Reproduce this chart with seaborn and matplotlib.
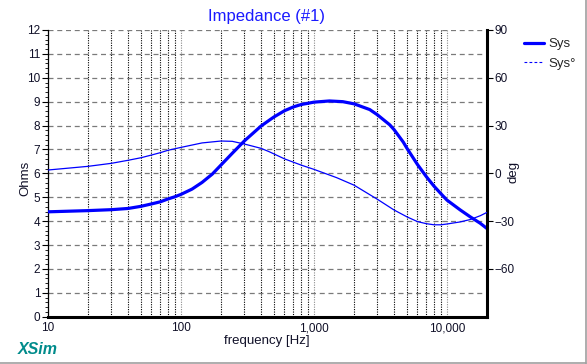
import numpy as np
import pandas as pd
import seaborn as sns
import matplotlib
matplotlib.use("Agg")
import matplotlib.pyplot as plt
from matplotlib.lines import Line2D
from matplotlib.ticker import FixedLocator, MultipleLocator, NullFormatter

# ---- data ----
freq_mag = [10, 20, 30, 40, 50, 60, 70, 80, 90, 100, 121, 144, 172, 200, 243, 300, 400,
            460, 500, 600, 700, 800, 1000, 1306, 1647, 2000, 2625, 3000, 3715, 4000, 4690,
            5000, 6000, 7000, 8000, 9000, 10000, 12570, 14960, 17800, 20000]
ohms = [4.39, 4.44, 4.48, 4.53, 4.62, 4.72, 4.81, 4.93, 5.02, 5.12, 5.34, 5.62, 5.97,
        6.35, 6.84, 7.36, 7.98, 8.22, 8.36, 8.62, 8.78, 8.88, 8.98, 9.03, 9.00, 8.91,
        8.67, 8.45, 8.03, 7.83, 7.31, 7.05, 6.37, 5.86, 5.46, 5.15, 4.88, 4.47, 4.18,
        3.91, 3.69]

freq_ph = [10, 20, 30, 40, 50, 60, 70, 80, 100, 144, 200, 243, 300, 400, 460, 500, 600,
           800, 1000, 1480, 2000, 3000, 4000, 5000, 6000, 7000, 8000, 9000, 10000, 12570,
           14960, 17800, 20000]
deg = [2.1, 4.4, 6.3, 8.2, 9.8, 11.5, 13.0, 14.5, 16.3, 19.1, 20.3, 20.1, 18.4, 15.7,
       13.6, 12.2, 9.1, 5.2, 2.5, -2.7, -7.4, -16.3, -23.0, -27.3, -30.3, -31.6, -32.3,
       -32.3, -31.8, -30.5, -29.0, -26.6, -24.5]

x_ticks = [10, 100, 1000, 10000]
x_tick_labels = ["10", "100", "1,000", "10,000"]
left_ticks = list(range(0, 13))
right_ticks = [-60, -30, 0, 30, 60, 90]

title = "Impedance (#1)"
series_names = ["Sys", "Sys°"]

df_mag = pd.DataFrame({"freq": freq_mag, "val": ohms})
df_ph = pd.DataFrame({"freq": freq_ph, "val": deg})

sns.set_theme(style="white")
plt.rcParams["font.family"] = ["Liberation Sans", "DejaVu Sans"]

W, H = 587, 364
fig = plt.figure(figsize=(W / 100, H / 100), dpi=100)
fig.patch.set_facecolor("white")

L, R, T, B = 48, 487, 30, 316.7
ax = fig.add_axes([L / W, 1 - B / H, (R - L) / W, (B - T) / H])
ax.set_facecolor("white")
ax.set_xscale("log")
ax.set_xlim(10, 20000)
ax.set_ylim(0, 12)

blue = "#0000ff"
label_col = "#101028"

sns.lineplot(data=df_mag, x="freq", y="val", ax=ax, color=blue, linewidth=2.3,
             legend=False, zorder=5)

ax2 = ax.twinx()
ax2.set_ylim(-90, 90)
sns.lineplot(data=df_ph, x="freq", y="val", ax=ax2, color=blue, linewidth=0.9,
             legend=False, zorder=5)
ax.set_xlim(10, 20000)

# grids
ax.set_xticks(x_ticks)
ax.set_xticklabels(x_tick_labels)
minor = [m * 10 ** e for e in range(1, 5) for m in range(2, 10) if m * 10 ** e < 20000]
ax.xaxis.set_minor_locator(FixedLocator(minor))
ax.xaxis.set_minor_formatter(NullFormatter())
ax.grid(False)
ax2.grid(False)
ax.xaxis.grid(True, which="minor", color="black", linestyle=(0, (1, 1.2)), linewidth=0.8)
ax.xaxis.grid(True, which="major", color="#8a8a8a", linestyle=(0, (1, 1.2)), linewidth=0.8)
ax.set_yticks(left_ticks)
ax.yaxis.set_minor_locator(MultipleLocator(0.2))
ax.yaxis.grid(True, which="major", color="#7a7a7a", linestyle=(0, (4, 3)), linewidth=0.9)

ax2.set_yticks(right_ticks)

# spines
ax.spines["top"].set_visible(False)
ax2.spines["top"].set_visible(False)
ax.spines["left"].set_color("black")
ax.spines["left"].set_linewidth(0.9)
ax.spines["bottom"].set_color("black")
ax.spines["bottom"].set_linewidth(2.2)
ax.spines["right"].set_visible(False)
ax2.spines["left"].set_visible(False)
ax2.spines["bottom"].set_visible(False)
ax2.spines["right"].set_color("black")
ax2.spines["right"].set_linewidth(2.2)

# ticks
ax.tick_params(axis="x", which="both", length=0, pad=4, labelsize=8.5, labelcolor=label_col)
ax.tick_params(axis="y", which="major", left=True, length=4, width=0.8, color="black",
               pad=1.5, labelsize=8.5, labelcolor=label_col)
ax.tick_params(axis="y", which="minor", left=True, length=2, width=0.6, color="black")
ax2.tick_params(axis="y", which="major", right=True, length=4, width=0.8, color="black",
                pad=1.5, labelsize=8.5, labelcolor=label_col)

ax.set_xlabel("")
ax.set_ylabel("")
ax2.set_ylabel("")

# texts
fig.text(267 / W, 1 - 17 / H, title, color="#1a1aff", fontsize=12, ha="center", va="center")
fig.text(267 / W, 1 - 341 / H, "frequency [Hz]", color=label_col, fontsize=9.5,
         ha="center", va="center")
fig.text(25 / W, 1 - 178 / H, "Ohms", color=label_col, fontsize=9.5, rotation=90,
         ha="center", va="center")
fig.text(514 / W, 1 - 172 / H, "deg", color=label_col, fontsize=9.5, rotation=90,
         ha="center", va="center")
fig.text(18 / W, 1 - 349 / H, "XSim", color="#008b8b", fontsize=11.5, fontweight="bold",
         style="italic", ha="left", va="center")

handles = [Line2D([], [], color=blue, linewidth=2.3),
           Line2D([], [], color=blue, linewidth=0.8, linestyle=(0, (2.5, 2)))]
fig.legend(handles, series_names, loc="upper left", bbox_to_anchor=(524 / W, 1 - 38 / H),
           frameon=False, fontsize=9.5, handlelength=1.55, handletextpad=0.3,
           labelspacing=0.55, borderaxespad=0, borderpad=0)

# window frame lines (bottom and right)
fig.add_artist(Line2D([0, 585.5 / W], [1 - 362.5 / H, 1 - 362.5 / H], color="#a0a0a0",
                      linewidth=1.2, transform=fig.transFigure))
fig.add_artist(Line2D([585.5 / W, 585.5 / W], [0, 1], color="#a0a0a0",
                      linewidth=1.2, transform=fig.transFigure))

fig.savefig("out.png", dpi=100)
